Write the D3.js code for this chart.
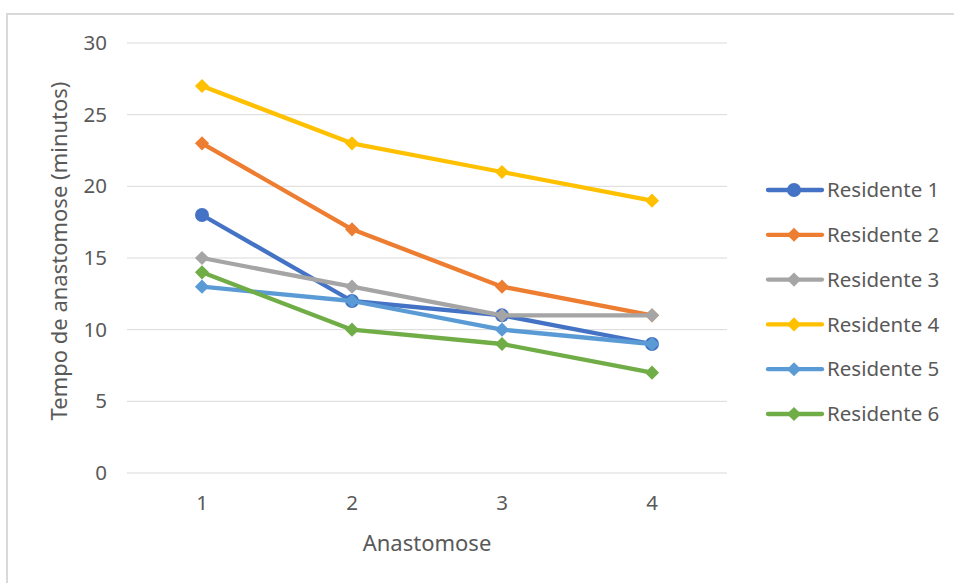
<!DOCTYPE html>
<html>
<head>
<meta charset="utf-8">
<script src="https://cdn.jsdelivr.net/npm/d3@7"></script>
<style>
  html, body { margin: 0; padding: 0; background: #ffffff; }
  svg { display: block; }
  text { font-family: "Noto Sans", "Open Sans", sans-serif; fill: #595959; }
</style>
</head>
<body>
<svg id="chart" width="954" height="583"></svg>
<script>
// Anastomosis time per resident, in minutes
const anastomoses = [1, 2, 3, 4];
const residents = ["Residente 1", "Residente 2", "Residente 3", "Residente 4", "Residente 5", "Residente 6"];
const residente1 = [18, 12, 11, 9];
const residente2 = [23, 17, 13, 11];
const residente3 = [15, 13, 11, 11];
const residente4 = [27, 23, 21, 19];
const residente5 = [13, 12, 10, 9];
const residente6 = [14, 10, 9, 7];
const yTicks = [0, 5, 10, 15, 20, 25, 30];
const colors = ["#4472C4", "#ED7D31", "#A5A5A5", "#FFC000", "#5B9BD5", "#70AD47"];
const markers = ["circle", "diamond", "diamond", "diamond", "diamond", "diamond"];

const seriesValues = [residente1, residente2, residente3, residente4, residente5, residente6];
const series = residents.map((name, i) => ({
  name, color: colors[i], marker: markers[i],
  points: anastomoses.map((a, j) => ({ a, v: seriesValues[i][j] }))
}));

const svg = d3.select("#chart");

// outer chart frame
svg.append("path")
  .attr("d", "M7,583 V14 H954")
  .attr("fill", "none").attr("stroke", "#D9D9D9").attr("stroke-width", 2);

const plot = { left: 127, right: 727, top: 43, bottom: 473 };

const x = d3.scaleBand().domain(anastomoses).range([plot.left, plot.right]);
const y = d3.scaleLinear().domain([0, 30]).range([plot.bottom, plot.top]);
const cx = a => x(a) + x.bandwidth() / 2;

// horizontal gridlines
svg.append("g").selectAll("line").data(yTicks).join("line")
  .attr("x1", plot.left).attr("x2", plot.right)
  .attr("y1", d => y(d)).attr("y2", d => y(d))
  .attr("stroke", "#D9D9D9").attr("stroke-width", 1);

// y axis labels
const yAxis = svg.append("g")
  .attr("transform", `translate(${plot.left - 20},0)`)
  .call(d3.axisLeft(y).tickValues(yTicks).tickSize(0).tickPadding(0))
  .attr("font-family", null).attr("font-size", null);
yAxis.select(".domain").remove();
yAxis.selectAll("text").attr("font-size", 20.5).attr("fill", "#595959");

// x axis labels
const xAxis = svg.append("g")
  .attr("transform", `translate(0,${plot.bottom + 22})`)
  .call(d3.axisBottom(x).tickSize(0).tickPadding(0))
  .attr("font-family", null).attr("font-size", null);
xAxis.select(".domain").remove();
xAxis.selectAll("text").attr("font-size", 20.5).attr("fill", "#595959").attr("dy", "0.71em");

// axis titles
svg.append("text")
  .attr("x", (plot.left + plot.right) / 2).attr("y", 551)
  .attr("text-anchor", "middle").attr("font-size", 22)
  .text("Anastomose");

svg.append("text")
  .attr("transform", `translate(67,${(plot.top + plot.bottom) / 2 - 7}) rotate(-90)`)
  .attr("text-anchor", "middle").attr("font-size", 22)
  .text("Tempo de anastomose (minutos)");

const line = d3.line().x(d => cx(d.a)).y(d => y(d.v));
const diamond = d3.symbol().type(d3.symbolSquare).size(100);

function drawMarker(sel, s) {
  if (s.marker === "circle") {
    sel.append("circle").attr("r", 7).attr("fill", s.color);
  } else {
    sel.append("path").attr("d", diamond()).attr("transform", "rotate(45)").attr("fill", s.color);
  }
}

// series lines and markers
const gSeries = svg.append("g").selectAll("g").data(series).join("g");
gSeries.append("path")
  .attr("d", d => line(d.points))
  .attr("fill", "none")
  .attr("stroke", d => d.color)
  .attr("stroke-width", 4.3)
  .attr("stroke-linejoin", "round").attr("stroke-linecap", "round");
gSeries.each(function (s) {
  d3.select(this).selectAll("g.pt").data(s.points).join("g")
    .attr("class", "pt")
    .attr("transform", d => `translate(${cx(d.a)},${y(d.v)})`)
    .each(function () { drawMarker(d3.select(this), s); });
});

// legend
const legend = svg.append("g").attr("transform", "translate(768,190)");
const items = legend.selectAll("g").data(series).join("g")
  .attr("transform", (d, i) => `translate(0,${i * 44.8})`);
items.append("line").attr("x1", 0).attr("x2", 54).attr("y1", 0).attr("y2", 0)
  .attr("stroke", d => d.color).attr("stroke-width", 4.3).attr("stroke-linecap", "round");
items.each(function (s) {
  const g = d3.select(this).append("g").attr("transform", "translate(26,0)");
  drawMarker(g, s);
});
items.append("text").attr("x", 59).attr("dy", "0.35em")
  .attr("font-size", 20.5).text(d => d.name);
</script>
</body>
</html>
